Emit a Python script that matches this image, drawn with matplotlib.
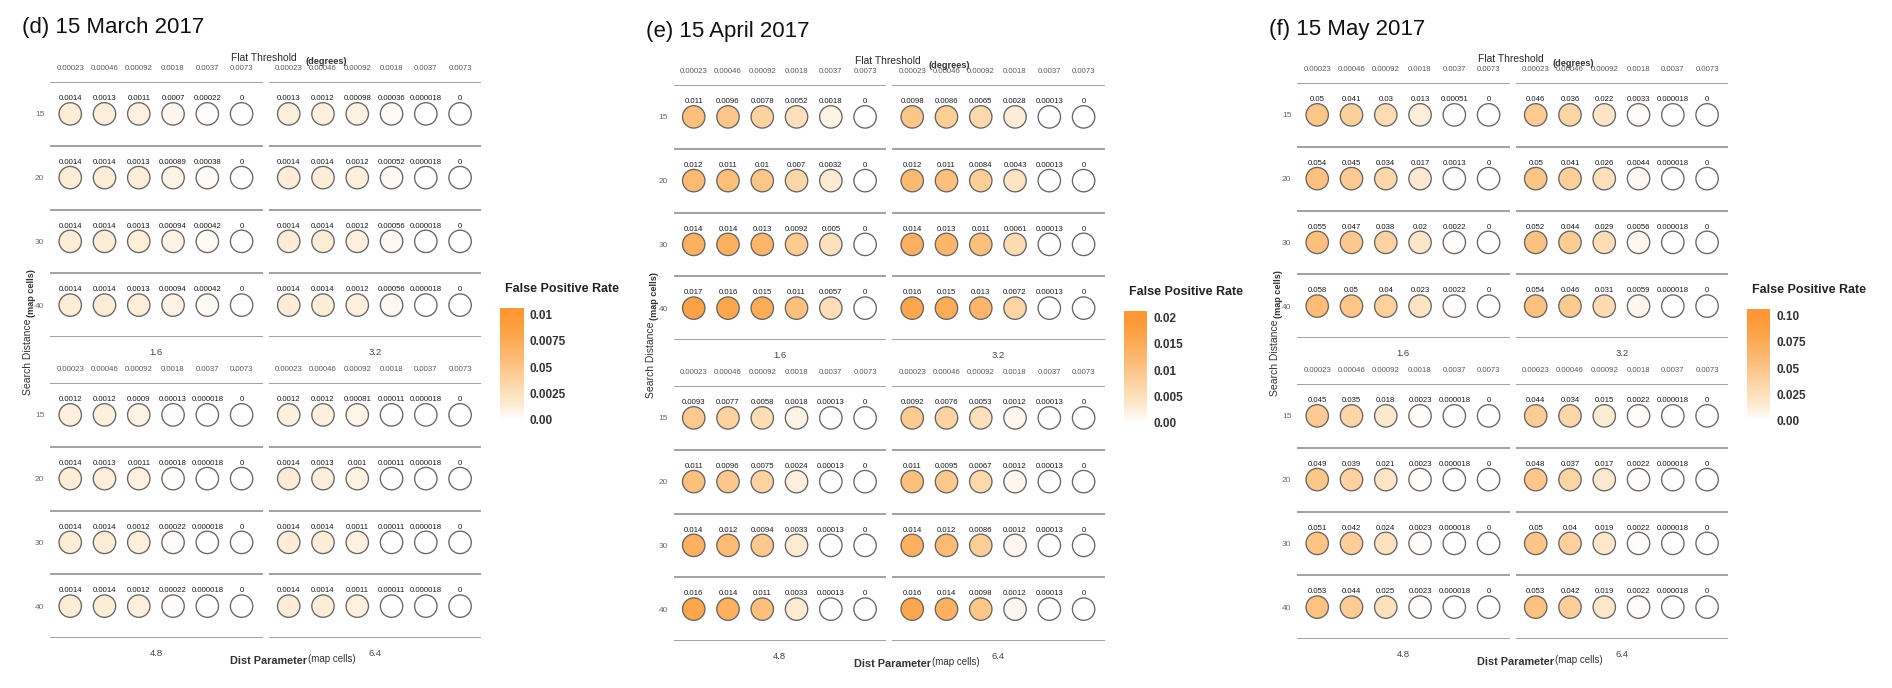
import numpy as np
import matplotlib.pyplot as plt
from matplotlib.colors import LinearSegmentedColormap, Normalize

plt.rcParams['font.family'] = ['Liberation Sans', 'DejaVu Sans']

thresholds = ["0.00023", "0.00046", "0.00092", "0.0018", "0.0037", "0.0073"]
search_dist = [15, 20, 30, 40]
dist_params = ["1.6", "3.2", "4.8", "6.4"]

# (d) 15 March 2017, one block per dist parameter, rows = search distance
march_16 = [[0.0014, 0.0013, 0.0011, 0.0007, 0.00022, 0],
            [0.0014, 0.0014, 0.0013, 0.00089, 0.00038, 0],
            [0.0014, 0.0014, 0.0013, 0.00094, 0.00042, 0],
            [0.0014, 0.0014, 0.0013, 0.00094, 0.00042, 0]]
march_32 = [[0.0013, 0.0012, 0.00098, 0.00036, 0.000018, 0],
            [0.0014, 0.0014, 0.0012, 0.00052, 0.000018, 0],
            [0.0014, 0.0014, 0.0012, 0.00056, 0.000018, 0],
            [0.0014, 0.0014, 0.0012, 0.00056, 0.000018, 0]]
march_48 = [[0.0012, 0.0012, 0.0009, 0.00013, 0.000018, 0],
            [0.0014, 0.0013, 0.0011, 0.00018, 0.000018, 0],
            [0.0014, 0.0014, 0.0012, 0.00022, 0.000018, 0],
            [0.0014, 0.0014, 0.0012, 0.00022, 0.000018, 0]]
march_64 = [[0.0012, 0.0012, 0.00081, 0.00011, 0.000018, 0],
            [0.0014, 0.0013, 0.001, 0.00011, 0.000018, 0],
            [0.0014, 0.0014, 0.0011, 0.00011, 0.000018, 0],
            [0.0014, 0.0014, 0.0011, 0.00011, 0.000018, 0]]

# (e) 15 April 2017
april_16 = [[0.011, 0.0096, 0.0078, 0.0052, 0.0018, 0],
            [0.012, 0.011, 0.01, 0.007, 0.0032, 0],
            [0.014, 0.014, 0.013, 0.0092, 0.005, 0],
            [0.017, 0.016, 0.015, 0.011, 0.0057, 0]]
april_32 = [[0.0098, 0.0086, 0.0065, 0.0028, 0.00013, 0],
            [0.012, 0.011, 0.0084, 0.0043, 0.00013, 0],
            [0.014, 0.013, 0.011, 0.0061, 0.00013, 0],
            [0.016, 0.015, 0.013, 0.0072, 0.00013, 0]]
april_48 = [[0.0093, 0.0077, 0.0058, 0.0018, 0.00013, 0],
            [0.011, 0.0096, 0.0075, 0.0024, 0.00013, 0],
            [0.014, 0.012, 0.0094, 0.0033, 0.00013, 0],
            [0.016, 0.014, 0.011, 0.0033, 0.00013, 0]]
april_64 = [[0.0092, 0.0076, 0.0053, 0.0012, 0.00013, 0],
            [0.011, 0.0095, 0.0067, 0.0012, 0.00013, 0],
            [0.014, 0.012, 0.0086, 0.0012, 0.00013, 0],
            [0.016, 0.014, 0.0098, 0.0012, 0.00013, 0]]

# (f) 15 May 2017
may_16 = [[0.05, 0.041, 0.03, 0.013, 0.00051, 0],
          [0.054, 0.045, 0.034, 0.017, 0.0013, 0],
          [0.055, 0.047, 0.038, 0.02, 0.0022, 0],
          [0.058, 0.05, 0.04, 0.023, 0.0022, 0]]
may_32 = [[0.046, 0.036, 0.022, 0.0033, 0.000018, 0],
          [0.05, 0.041, 0.026, 0.0044, 0.000018, 0],
          [0.052, 0.044, 0.029, 0.0056, 0.000018, 0],
          [0.054, 0.046, 0.031, 0.0059, 0.000018, 0]]
may_48 = [[0.045, 0.035, 0.018, 0.0023, 0.000018, 0],
          [0.049, 0.039, 0.021, 0.0023, 0.000018, 0],
          [0.051, 0.042, 0.024, 0.0023, 0.000018, 0],
          [0.053, 0.044, 0.025, 0.0023, 0.000018, 0]]
may_64 = [[0.044, 0.034, 0.015, 0.0022, 0.000018, 0],
          [0.048, 0.037, 0.017, 0.0022, 0.000018, 0],
          [0.05, 0.04, 0.019, 0.0022, 0.000018, 0],
          [0.053, 0.042, 0.019, 0.0022, 0.000018, 0]]

march_cb = [0.01, 0.0075, 0.005, 0.0025, 0.0]
march_cb_labels = ["0.01", "0.0075", "0.05", "0.0025", "0.00"]
april_cb = [0.02, 0.015, 0.01, 0.005, 0.0]
april_cb_labels = ["0.02", "0.015", "0.01", "0.005", "0.00"]
may_cb = [0.10, 0.075, 0.05, 0.025, 0.0]
may_cb_labels = ["0.10", "0.075", "0.05", "0.025", "0.00"]

panels = [
    ("(d) 15 March 2017", [march_16, march_32, march_48, march_64], 0.01, march_cb, march_cb_labels),
    ("(e) 15 April 2017", [april_16, april_32, april_48, april_64], 0.02, april_cb, april_cb_labels),
    ("(f) 15 May 2017", [may_16, may_32, may_48, may_64], 0.10, may_cb, may_cb_labels),
]

W, H = 1892, 688
fig = plt.figure(figsize=(W / 100, H / 100), dpi=100)


def box(left, top, width, height):
    return [left / W, 1 - (top + height) / H, width / W, height / H]


def put(x, y, s, **kw):
    fig.text(x / W, 1 - y / H, s, **kw)


def fmt(v):
    return np.format_float_positional(v, trim='-')


cmap = LinearSegmentedColormap.from_list("fpr", [
    (0.0, "#FFFFFF"), (0.1, "#FEF2E2"), (0.15, "#FDEBD3"), (0.3, "#FDDCB2"),
    (0.55, "#FDBF7C"), (0.85, "#FCA245"), (1.0, "#FE9736")])

line_col = "#9c9c9c"
tick_col = "#5a5a5a"

for p, (title, facets, vmax, cb_vals, cb_labels) in enumerate(panels):
    x0 = 50 + 623.5 * p
    dy = [0, 3, 1][p]
    norm = Normalize(0, vmax)

    for k, vals in enumerate(facets):
        col, row = k % 2, k // 2
        ax = fig.add_axes(box(x0 + col * 218.5, 82 + dy + row * 301, 212.5, 255))
        vals = np.array(vals, dtype=float)
        xx, yy = np.meshgrid(np.arange(len(thresholds)), np.arange(len(search_dist)))
        ax.scatter(xx.ravel(), yy.ravel(), c=vals.ravel(), cmap=cmap, norm=norm,
                   s=260, edgecolors="#666666", linewidths=0.95, zorder=3, clip_on=False)
        for xi, yi, v in zip(xx.ravel(), yy.ravel(), vals.ravel()):
            ax.annotate(fmt(v), (xi, yi), xytext=(0, 11), textcoords='offset points',
                        ha='center', va='center', fontsize=5.6, color="#1a1a1a")
        for yl in np.arange(-0.5, len(search_dist), 1):
            ax.axhline(yl, color=line_col, lw=1.35, zorder=1)
        ax.set_xlim(-0.59, 5.61)
        ax.set_ylim(3.5, -0.5)
        ax.set_xticks(range(len(thresholds)), thresholds)
        ax.tick_params(axis='x', top=True, bottom=False, labeltop=True, labelbottom=False,
                       length=0, pad=7, labelsize=5.6, labelcolor=tick_col)
        if col == 0:
            ax.set_yticks(range(len(search_dist)), search_dist)
            ax.tick_params(axis='y', length=0, pad=4, labelsize=6, labelcolor="#6a6a6a")
        else:
            ax.set_yticks([])
        for s in ax.spines.values():
            s.set_visible(False)
        ax.patch.set_alpha(0)
        ax.annotate(dist_params[k], (0.5, 0), xycoords='axes fraction', xytext=(0, -11),
                    textcoords='offset points', ha='center', va='center',
                    fontsize=6.8, color="#444444")

    # panel texts
    put(x0 - 28, 28 + dy, title, fontsize=16, ha='left', va='center', color="#111111")
    put(x0 + 247, 58 + dy, "Flat Threshold", ha='right', va='center', fontsize=7.4, color="#2a2a2a")
    put(x0 + 255, 62 + dy, "(degrees)", ha='left', va='center', fontsize=6.6,
        fontweight='bold', color="#333333")
    put(x0 + 257, 661 + dy, "Dist Parameter", ha='right', va='center', fontsize=7.8,
        fontweight='bold', color="#333333")
    put(x0 + 258, 659 + dy, "(map cells)", ha='left', va='center', fontsize=7, color="#333333")
    put(x0 - 22, 357 + dy, "Search Distance", rotation=90, ha='center', va='center',
        fontsize=7.5, color="#333333")
    put(x0 - 19, 293 + dy, "(map cells)", rotation=90, ha='center', va='center',
        fontsize=6.6, fontweight='bold', color="#333333")

    # legend
    put(x0 + 455, 289 + dy, "False Positive Rate", ha='left', va='center', fontsize=9,
        fontweight='bold', color="#222222")
    cax = fig.add_axes(box(x0 + 450, 308 + dy, 23, 116))
    rng = vmax / 0.9135
    lo, hi = -0.0345 * rng, vmax + 0.052 * rng
    grad = np.linspace(lo, hi, 256).reshape(-1, 1)
    cax.imshow(grad, extent=(0, 1, lo, hi), origin='lower', aspect='auto', cmap=cmap, norm=norm)
    cax.set_ylim(lo, hi)
    cax.set_xticks([])
    cax.yaxis.tick_right()
    cax.set_yticks(cb_vals, cb_labels)
    cax.tick_params(axis='y', length=0, pad=5, labelsize=8.5, labelcolor="#333333")
    for lab in cax.get_yticklabels():
        lab.set_fontweight('bold')
    for s in cax.spines.values():
        s.set_visible(False)

fig.savefig("out.png", dpi=100)
